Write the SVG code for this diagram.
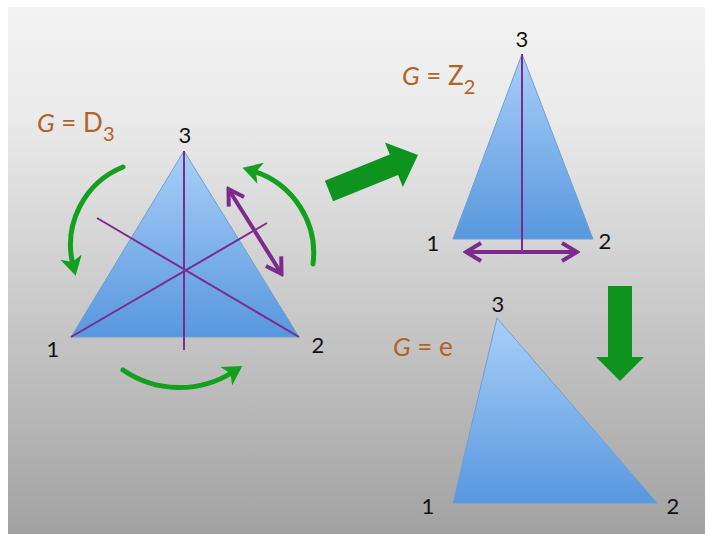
<svg xmlns="http://www.w3.org/2000/svg" width="705" height="534" viewBox="0 0 705 534">
<style>
.num{font-family:Lato,"Liberation Sans",sans-serif;font-size:22px;fill:#111111;text-anchor:middle}
.glab{font-family:Lato,"Liberation Sans",sans-serif;font-size:26px;fill:#b3621f}
.tri{fill:url(#triG);stroke:#6d9fd6;stroke-width:1}
.axis{stroke:#7d2a8e;stroke-width:2;fill:none}
.flip{stroke:#7d2a8e;stroke-width:4;fill:none;marker-start:url(#pArr);marker-end:url(#pArr)}
.rot{stroke:#12a01e;stroke-width:5;fill:none;stroke-linecap:round;marker-end:url(#gArr)}
.block{fill:#0f931f}
</style>
<defs>
<linearGradient id="bgG" x1="0" y1="0" x2="0" y2="1">
<stop offset="0" stop-color="#f3f3f3"/>
<stop offset="0.2" stop-color="#ebebeb"/>
<stop offset="1" stop-color="#a2a2a2"/>
</linearGradient>
<linearGradient id="triG" x1="0" y1="0" x2="0" y2="1">
<stop offset="0" stop-color="#a9cff8"/>
<stop offset="1" stop-color="#5897de"/>
</linearGradient>
<marker id="gArr" markerUnits="userSpaceOnUse" viewBox="-12 -12 24 24" markerWidth="24" markerHeight="24" refX="0" refY="0" orient="auto">
<path d="M11,0 L-8,-11 L-3,0 L-8,11 Z" fill="#12a01e"/>
</marker>
<marker id="pArr" markerUnits="userSpaceOnUse" viewBox="-20 -12 24 24" markerWidth="24" markerHeight="24" refX="0" refY="0" orient="auto-start-reverse">
<path d="M-14,-9 L1,0 L-14,9" fill="none" stroke="#7d2a8e" stroke-width="4"/>
</marker>
</defs>
<rect x="0" y="0" width="705" height="534" fill="#ffffff"/>
<rect x="8" y="7" width="697" height="527" fill="url(#bgG)"/>

<g id="node-d3">
<polygon class="tri" points="71,337 299,337 184,151"/>
<line class="axis" x1="184" y1="151" x2="184" y2="350"/>
<line class="axis" x1="71" y1="337" x2="267" y2="223"/>
<line class="axis" x1="299" y1="337" x2="97" y2="218"/>
<line class="flip" x1="229" y1="190" x2="281" y2="273"/>
<path class="rot" d="M123,167 A84,84 0 0 0 73,265"/>
<path class="rot" d="M313,264 A86,86 0 0 0 253,171"/>
<path class="rot" d="M123,370 A100,100 0 0 0 233,372"/>
<text class="num" x="185" y="143">3</text>
<text class="num" x="53" y="357">1</text>
<text class="num" x="318" y="353">2</text>
<text class="glab" x="37" y="132"><tspan font-style="italic">G</tspan> = D<tspan font-size="20" dy="9">3</tspan></text>
</g>

<g id="node-z2">
<polygon class="tri" points="453,239 593,239 522,54"/>
<line class="axis" x1="522" y1="54" x2="522" y2="252" stroke-width="2.5"/>
<line class="flip" x1="467" y1="252" x2="576" y2="252"/>
<text class="num" x="522" y="47">3</text>
<text class="num" x="433" y="251">1</text>
<text class="num" x="605" y="249">2</text>
<text class="glab" x="402" y="85"><tspan font-style="italic">G</tspan> = Z<tspan font-size="20" dy="9">2</tspan></text>
</g>

<g id="node-e">
<polygon class="tri" points="453,503 657,503 497,318"/>
<text class="num" x="498" y="312">3</text>
<text class="num" x="428" y="514">1</text>
<text class="num" x="673" y="514">2</text>
<text class="glab" x="393" y="356"><tspan font-style="italic">G</tspan> = e</text>
</g>

<g id="connectors">
<polygon class="block" transform="translate(329,191) rotate(-22)" points="0,-11 70,-11 70,-24 96,0 70,24 70,11 0,11"/>
<polygon class="block" points="608,286 632,286 632,357 644,357 620,381 596,357 608,357"/>
</g>
</svg>
